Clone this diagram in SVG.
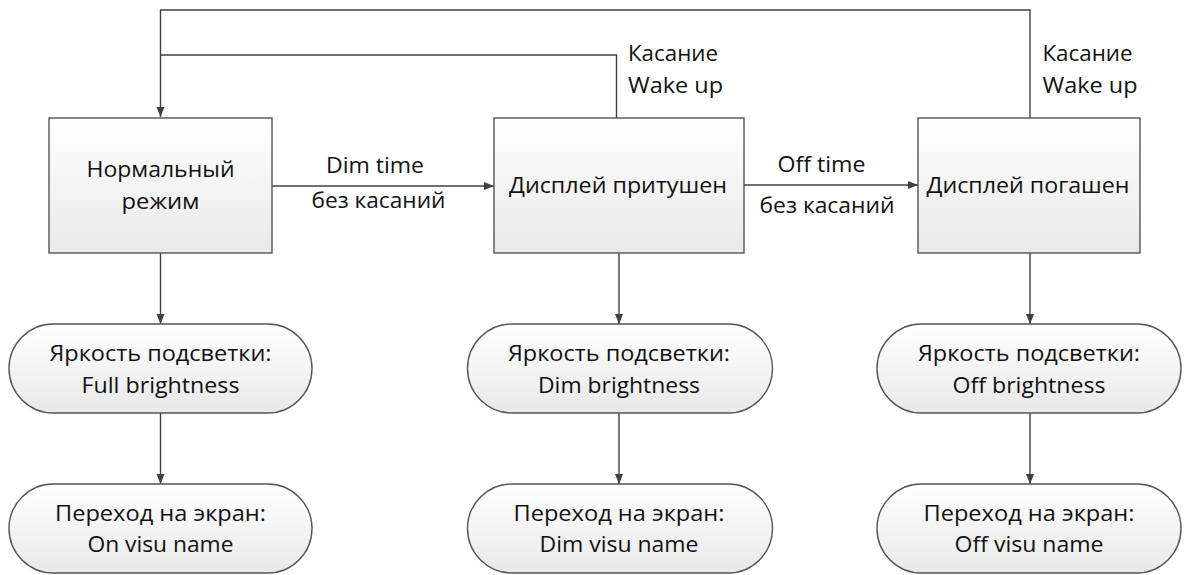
<svg xmlns="http://www.w3.org/2000/svg" width="1184" height="575" viewBox="0 0 1184 575">
<defs>
<linearGradient id="g" x1="0" y1="0" x2="0" y2="1">
<stop offset="0" stop-color="#ffffff"/>
<stop offset="1" stop-color="#e9e9e9"/>
</linearGradient>
<marker id="ah" viewBox="0 0 10 10" refX="10" refY="5" markerWidth="10" markerHeight="10" markerUnits="userSpaceOnUse" orient="auto">
<path d="M0,1 L10,5 L0,9 z" fill="#404040"/>
</marker>
</defs>
<style>
.box{fill:url(#g);stroke:#555555;stroke-width:1.4}
.c{fill:none;stroke:#404040;stroke-width:1.4}
text{font-family:"Open Sans","Liberation Sans",sans-serif;font-size:21.5px;fill:#111111}
.m{text-anchor:middle}
</style>
<rect width="1184" height="575" fill="#ffffff"/>
<g id="connectors">
<path class="c" d="M616.5,118 V55 H160.5"/>
<path class="c" d="M1030,118 V10 H160.5 V117" marker-end="url(#ah)"/>
<path class="c" d="M272,186 H494" marker-end="url(#ah)"/>
<path class="c" d="M744,185 H918" marker-end="url(#ah)"/>
<path class="c" d="M160.5,253 V324" marker-end="url(#ah)"/>
<path class="c" d="M160.5,413 V484" marker-end="url(#ah)"/>
<path class="c" d="M619,253 V324" marker-end="url(#ah)"/>
<path class="c" d="M619,413 V484" marker-end="url(#ah)"/>
<path class="c" d="M1030,253 V324" marker-end="url(#ah)"/>
<path class="c" d="M1030,413 V484" marker-end="url(#ah)"/>
</g>
<g id="labels">
<text class="m" x="375" y="173" textLength="98" lengthAdjust="spacingAndGlyphs">Dim time</text>
<text class="m" x="378.5" y="208" textLength="134" lengthAdjust="spacingAndGlyphs">без касаний</text>
<text class="m" x="821.5" y="171.5" textLength="88" lengthAdjust="spacingAndGlyphs">Off time</text>
<text class="m" x="827" y="213" textLength="135" lengthAdjust="spacingAndGlyphs">без касаний</text>
<text x="628" y="60.5" textLength="90" lengthAdjust="spacingAndGlyphs">Касание</text>
<text x="628" y="93" textLength="95" lengthAdjust="spacingAndGlyphs">Wake up</text>
<text x="1042.5" y="60.5" textLength="90" lengthAdjust="spacingAndGlyphs">Касание</text>
<text x="1042.5" y="93" textLength="95" lengthAdjust="spacingAndGlyphs">Wake up</text>
</g>
<g id="normal">
<rect class="box" x="49" y="118" width="223" height="135"/>
<text class="m" x="160.5" y="176.5" textLength="148" lengthAdjust="spacingAndGlyphs">Нормальный</text>
<text class="m" x="160.5" y="208.5" textLength="78" lengthAdjust="spacingAndGlyphs">режим</text>
</g>
<g id="dimmed">
<rect class="box" x="494" y="118" width="250" height="135"/>
<text class="m" x="618" y="193" textLength="218" lengthAdjust="spacingAndGlyphs">Дисплей притушен</text>
</g>
<g id="off">
<rect class="box" x="918" y="118" width="222" height="135"/>
<text class="m" x="1028" y="193" textLength="203" lengthAdjust="spacingAndGlyphs">Дисплей погашен</text>
</g>
<g id="bright-full">
<rect class="box" x="9" y="324" width="303" height="89" rx="44.5"/>
<text class="m" x="160.5" y="361" textLength="222" lengthAdjust="spacingAndGlyphs">Яркость подсветки:</text>
<text class="m" x="160.5" y="392.5" textLength="158" lengthAdjust="spacingAndGlyphs">Full brightness</text>
</g>
<g id="screen-on">
<rect class="box" x="9" y="484" width="303" height="89" rx="44.5"/>
<text class="m" x="160.5" y="521" textLength="211" lengthAdjust="spacingAndGlyphs">Переход на экран:</text>
<text class="m" x="160.5" y="552" textLength="146" lengthAdjust="spacingAndGlyphs">On visu name</text>
</g>
<g id="bright-dim">
<rect class="box" x="467.5" y="324" width="305" height="89" rx="44.5"/>
<text class="m" x="619" y="361" textLength="222" lengthAdjust="spacingAndGlyphs">Яркость подсветки:</text>
<text class="m" x="619" y="392.5" textLength="162" lengthAdjust="spacingAndGlyphs">Dim brightness</text>
</g>
<g id="screen-dim">
<rect class="box" x="467.5" y="484" width="305" height="89" rx="44.5"/>
<text class="m" x="619" y="521" textLength="211" lengthAdjust="spacingAndGlyphs">Переход на экран:</text>
<text class="m" x="619" y="552" textLength="159" lengthAdjust="spacingAndGlyphs">Dim visu name</text>
</g>
<g id="bright-off">
<rect class="box" x="877" y="324" width="304" height="89" rx="44.5"/>
<text class="m" x="1029" y="361" textLength="222" lengthAdjust="spacingAndGlyphs">Яркость подсветки:</text>
<text class="m" x="1029" y="392.5" textLength="153" lengthAdjust="spacingAndGlyphs">Off brightness</text>
</g>
<g id="screen-off">
<rect class="box" x="877" y="484" width="304" height="89" rx="44.5"/>
<text class="m" x="1029" y="521" textLength="211" lengthAdjust="spacingAndGlyphs">Переход на экран:</text>
<text class="m" x="1029" y="552" textLength="149" lengthAdjust="spacingAndGlyphs">Off visu name</text>
</g>
</svg>
